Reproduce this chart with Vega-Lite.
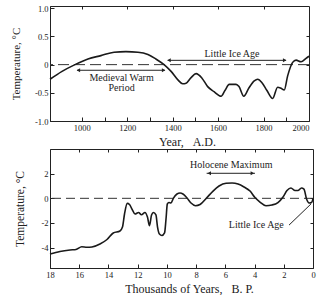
{
  "$schema": "https://vega.github.io/schema/vega-lite/v6.json",
  "background": "white",
  "padding": {"left": 9, "top": 3, "right": 0, "bottom": 0},
  "config": {
    "font": "Liberation Serif",
    "view": {"stroke": "#222", "strokeWidth": 1},
    "axis": {
      "grid": false, "domainColor": "#222", "tickColor": "#222", "labelColor": "#222", "titleColor": "#222",
      "labelFont": "Liberation Serif", "titleFont": "Liberation Serif", "labelFontSize": 8.5,
      "titleFontSize": 12, "titleFontWeight": "normal", "tickSize": -4, "labelPadding": 6, "labelOverlap": false
    },
    "text": {"font": "Liberation Serif", "color": "#222"}
  },
  "datasets": {
    "recent": [
      {"year": 860, "temp": -0.26}, {"year": 913, "temp": -0.12}, {"year": 970, "temp": 0.0},
      {"year": 1027, "temp": 0.1}, {"year": 1084, "temp": 0.16}, {"year": 1142, "temp": 0.22},
      {"year": 1194, "temp": 0.23}, {"year": 1247, "temp": 0.22}, {"year": 1291, "temp": 0.18},
      {"year": 1326, "temp": 0.1}, {"year": 1362, "temp": 0.0}, {"year": 1393, "temp": -0.12},
      {"year": 1423, "temp": -0.27}, {"year": 1444, "temp": -0.34}, {"year": 1459, "temp": -0.33},
      {"year": 1481, "temp": -0.23}, {"year": 1503, "temp": -0.16}, {"year": 1529, "temp": -0.24},
      {"year": 1554, "temp": -0.39}, {"year": 1582, "temp": -0.48}, {"year": 1613, "temp": -0.56},
      {"year": 1630, "temp": -0.46}, {"year": 1649, "temp": -0.35}, {"year": 1679, "temp": -0.35},
      {"year": 1692, "temp": -0.39}, {"year": 1713, "temp": -0.56}, {"year": 1736, "temp": -0.41},
      {"year": 1759, "temp": -0.29}, {"year": 1774, "temp": -0.26}, {"year": 1793, "temp": -0.32},
      {"year": 1815, "temp": -0.46}, {"year": 1840, "temp": -0.6}, {"year": 1862, "temp": -0.4},
      {"year": 1877, "temp": -0.42}, {"year": 1891, "temp": -0.45}, {"year": 1906, "temp": -0.2},
      {"year": 1928, "temp": 0.04}, {"year": 1943, "temp": 0.08}, {"year": 1965, "temp": 0.05},
      {"year": 1987, "temp": 0.11}, {"year": 2000, "temp": 0.15}
    ],
    "recentArrows": [
      {"x1": 1378, "x2": 1899, "y": 0.076},
      {"x1": 979, "x2": 1366, "y": -0.1}
    ],
    "recentHeads": [
      {"x": 1384, "y": 0.076, "dir": "triangle-left"},
      {"x": 1893, "y": 0.076, "dir": "triangle-right"},
      {"x": 985, "y": -0.1, "dir": "triangle-left"},
      {"x": 1360, "y": -0.1, "dir": "triangle-right"}
    ],
    "recentLabels": [
      {"x": 1661, "y": 0.195, "label": "Little Ice Age"},
      {"x": 1175, "y": -0.24, "label": "Medieval Warm"},
      {"x": 1175, "y": -0.42, "label": "Period"}
    ],
    "holocene": [
      {"kyr": 18.0, "temp": -4.52}, {"kyr": 17.32, "temp": -4.31}, {"kyr": 16.63, "temp": -4.19},
      {"kyr": 16.22, "temp": -4.15}, {"kyr": 15.83, "temp": -3.93}, {"kyr": 15.47, "temp": -3.97},
      {"kyr": 15.13, "temp": -3.95}, {"kyr": 14.58, "temp": -3.71}, {"kyr": 14.1, "temp": -3.34},
      {"kyr": 13.67, "temp": -2.81}, {"kyr": 13.21, "temp": -2.65}, {"kyr": 13.04, "temp": -2.33},
      {"kyr": 12.9, "temp": -1.27}, {"kyr": 12.71, "temp": -0.41}, {"kyr": 12.56, "temp": -0.5},
      {"kyr": 12.39, "temp": -0.87}, {"kyr": 12.18, "temp": -1.27}, {"kyr": 11.94, "temp": -1.15},
      {"kyr": 11.74, "temp": -1.33}, {"kyr": 11.5, "temp": -1.15}, {"kyr": 11.33, "temp": -1.52},
      {"kyr": 11.19, "temp": -2.21}, {"kyr": 11.05, "temp": -1.35}, {"kyr": 10.92, "temp": -1.15},
      {"kyr": 10.75, "temp": -1.35}, {"kyr": 10.64, "temp": -2.33}, {"kyr": 10.51, "temp": -2.9},
      {"kyr": 10.34, "temp": -3.02}, {"kyr": 10.16, "temp": -2.81}, {"kyr": 10.06, "temp": -1.68},
      {"kyr": 9.97, "temp": -0.46}, {"kyr": 9.86, "temp": -0.34}, {"kyr": 9.72, "temp": -0.38},
      {"kyr": 9.55, "temp": 0.02}, {"kyr": 9.31, "temp": 0.35}, {"kyr": 9.1, "temp": 0.43},
      {"kyr": 8.9, "temp": 0.35}, {"kyr": 8.62, "temp": 0.02}, {"kyr": 8.35, "temp": -0.38},
      {"kyr": 8.04, "temp": -0.6}, {"kyr": 7.73, "temp": -0.5}, {"kyr": 7.29, "temp": 0.02},
      {"kyr": 6.84, "temp": 0.59}, {"kyr": 6.43, "temp": 1.0}, {"kyr": 5.95, "temp": 1.22},
      {"kyr": 5.54, "temp": 1.24}, {"kyr": 5.13, "temp": 1.16}, {"kyr": 4.72, "temp": 0.92},
      {"kyr": 4.31, "temp": 0.59}, {"kyr": 3.97, "temp": 0.06}, {"kyr": 3.63, "temp": -0.3},
      {"kyr": 3.22, "temp": -0.6}, {"kyr": 2.81, "temp": -0.54}, {"kyr": 2.4, "temp": -0.34},
      {"kyr": 2.05, "temp": 0.11}, {"kyr": 1.78, "temp": 0.63}, {"kyr": 1.51, "temp": 0.84},
      {"kyr": 1.23, "temp": 0.63}, {"kyr": 1.03, "temp": 0.63}, {"kyr": 0.79, "temp": 0.84},
      {"kyr": 0.62, "temp": 0.75}, {"kyr": 0.44, "temp": -0.06}, {"kyr": 0.27, "temp": -0.38},
      {"kyr": 0.1, "temp": -0.34}, {"kyr": 0.0, "temp": -0.02}
    ],
    "holoArrows": [
      {"x1": 7.28, "x2": 3.97, "y": 2.03, "y2": 2.03},
      {"x1": 1.64, "x2": 0.14, "y": -2.17, "y2": -0.46}
    ],
    "holoHeads": [
      {"x": 7.1, "y": 2.03, "dir": "triangle-left"},
      {"x": 4.15, "y": 2.03, "dir": "triangle-right"}
    ],
    "holoLabels": [
      {"x": 5.6, "y": 2.68, "label": "Holocene Maximum"},
      {"x": 3.88, "y": -2.15, "label": "Little Ice Age"}
    ]
  },
  "columns": 1,
  "align": "none",
  "spacing": 0,
  "concat": [
    {
      "width": 259,
      "height": 115,
      "resolve": {"axis": {"x": "independent", "y": "independent"}},
      "layer": [
        {
          "data": {"values": [{"t": 0}]},
          "mark": {"type": "rule", "strokeDash": [11, 5], "color": "#333", "strokeWidth": 1},
          "encoding": {"y": {"field": "t", "type": "quantitative", "scale": {"domain": [-1, 1.04], "nice": false}, "axis": null}}
        },
        {
          "data": {"name": "recent"},
          "mark": {"type": "line", "interpolate": "monotone", "color": "#1a1a1a", "strokeWidth": 1.6},
          "encoding": {
            "x": {
              "field": "year", "type": "quantitative",
              "scale": {"domain": [860, 2000], "nice": false, "zero": false},
              "axis": {
                "values": [1000, 1100, 1200, 1300, 1400, 1500, 1600, 1700, 1800, 1900, 2000],
                "format": "d",
                "labelExpr": "datum.value % 200 == 0 ? datum.label : ''",
                "labelFlush": true,
                "labelOverlap": false,
                "title": "Year,\u00a0\u00a0\u00a0A.D.",
                "titleX": 137,
                "titlePadding": 5
              }
            },
            "y": {
              "field": "temp", "type": "quantitative",
              "scale": {"domain": [-1, 1.04], "nice": false},
              "axis": {
                "values": [-1, -0.5, 0, 0.5, 1],
                "labelExpr": "datum.value == 0 ? '0' : replace(format(datum.value, '.1f'), '\u2212', '-')",
                "labelOverlap": false,
                "title": "Temperature, °C",
                "titleFontSize": 11,
                "titleX": -29
              }
            }
          }
        },
        {
          "data": {"name": "recentArrows"},
          "mark": {"type": "rule", "color": "#222", "strokeWidth": 1},
          "encoding": {
            "x": {"field": "x1", "type": "quantitative", "scale": {"domain": [860, 2000], "nice": false, "zero": false},
                  "axis": {"orient": "top", "values": [1000, 1200, 1400, 1600, 1800], "labels": false, "domain": false, "title": null, "tickSize": -3}},
            "x2": {"field": "x2"},
            "y": {"field": "y", "type": "quantitative", "scale": {"domain": [-1, 1.04], "nice": false},
                  "axis": {"orient": "right", "values": [-0.5, 0, 0.5], "labels": false, "domain": false, "title": null, "tickSize": -3}}
          }
        },
        {
          "data": {"name": "recentHeads"},
          "mark": {"type": "point", "filled": true, "color": "#222", "size": 16, "opacity": 1},
          "encoding": {
            "x": {"field": "x", "type": "quantitative", "scale": {"domain": [860, 2000], "nice": false, "zero": false}, "axis": null},
            "y": {"field": "y", "type": "quantitative", "scale": {"domain": [-1, 1.04], "nice": false}, "axis": null},
            "shape": {"field": "dir", "type": "nominal", "scale": null}
          }
        },
        {
          "data": {"name": "recentLabels"},
          "mark": {"type": "text", "fontSize": 10, "baseline": "middle", "align": "center"},
          "encoding": {
            "x": {"field": "x", "type": "quantitative", "scale": {"domain": [860, 2000], "nice": false, "zero": false}, "axis": null},
            "y": {"field": "y", "type": "quantitative", "scale": {"domain": [-1, 1.04], "nice": false}, "axis": null},
            "text": {"field": "label"}
          }
        }
      ]
    },
    {
      "width": 263,
      "height": 119,
      "resolve": {"axis": {"x": "independent", "y": "independent"}},
      "layer": [
        {
          "data": {"values": [{"t": 0}]},
          "mark": {"type": "rule", "strokeDash": [9, 5], "color": "#333", "strokeWidth": 1},
          "encoding": {"y": {"field": "t", "type": "quantitative", "scale": {"domain": [-5.65, 4], "nice": false}, "axis": null}}
        },
        {
          "data": {"name": "holocene"},
          "mark": {"type": "line", "interpolate": "monotone", "color": "#1a1a1a", "strokeWidth": 1.6},
          "encoding": {
            "x": {
              "field": "kyr", "type": "quantitative",
              "scale": {"domain": [18, 0], "nice": false},
              "axis": {
                "values": [0, 2, 4, 6, 8, 10, 12, 14, 16, 18],
                "format": "d",
                "labelFlush": false,
                "labelOverlap": false,
                "title": "Thousands of Years,\u00a0\u00a0 B. P.",
                "titleX": 139,
                "titlePadding": 5
              }
            },
            "y": {
              "field": "temp", "type": "quantitative",
              "scale": {"domain": [-5.65, 4], "nice": false},
              "axis": {
                "values": [-4, -2, 0, 2],
                "labelExpr": "replace(datum.label, '\u2212', '-')",
                "labelOverlap": false,
                "title": "Temperature, °C",
                "titleFontSize": 11.5,
                "titleX": -25
              }
            },
            "order": {"field": "kyr", "sort": "descending"}
          }
        },
        {
          "data": {"name": "holoArrows"},
          "mark": {"type": "rule", "color": "#222", "strokeWidth": 1},
          "encoding": {
            "x": {"field": "x1", "type": "quantitative", "scale": {"domain": [18, 0], "nice": false},
                  "axis": {"orient": "top", "values": [2, 4, 6, 8, 10, 12, 14, 16], "labels": false, "domain": false, "title": null, "tickSize": -3}},
            "x2": {"field": "x2"},
            "y": {"field": "y", "type": "quantitative", "scale": {"domain": [-5.65, 4], "nice": false},
                  "axis": {"orient": "right", "values": [-4, -2, 0, 2], "labels": false, "domain": false, "title": null, "tickSize": -3}},
            "y2": {"field": "y2"}
          }
        },
        {
          "data": {"name": "holoHeads"},
          "mark": {"type": "point", "filled": true, "color": "#222", "size": 16, "opacity": 1},
          "encoding": {
            "x": {"field": "x", "type": "quantitative", "scale": {"domain": [18, 0], "nice": false}, "axis": null},
            "y": {"field": "y", "type": "quantitative", "scale": {"domain": [-5.65, 4], "nice": false}, "axis": null},
            "shape": {"field": "dir", "type": "nominal", "scale": null}
          }
        },
        {
          "data": {"name": "holoLabels"},
          "mark": {"type": "text", "fontSize": 10, "baseline": "middle", "align": "center"},
          "encoding": {
            "x": {"field": "x", "type": "quantitative", "scale": {"domain": [18, 0], "nice": false}, "axis": null},
            "y": {"field": "y", "type": "quantitative", "scale": {"domain": [-5.65, 4], "nice": false}, "axis": null},
            "text": {"field": "label"}
          }
        }
      ]
    }
  ]
}
